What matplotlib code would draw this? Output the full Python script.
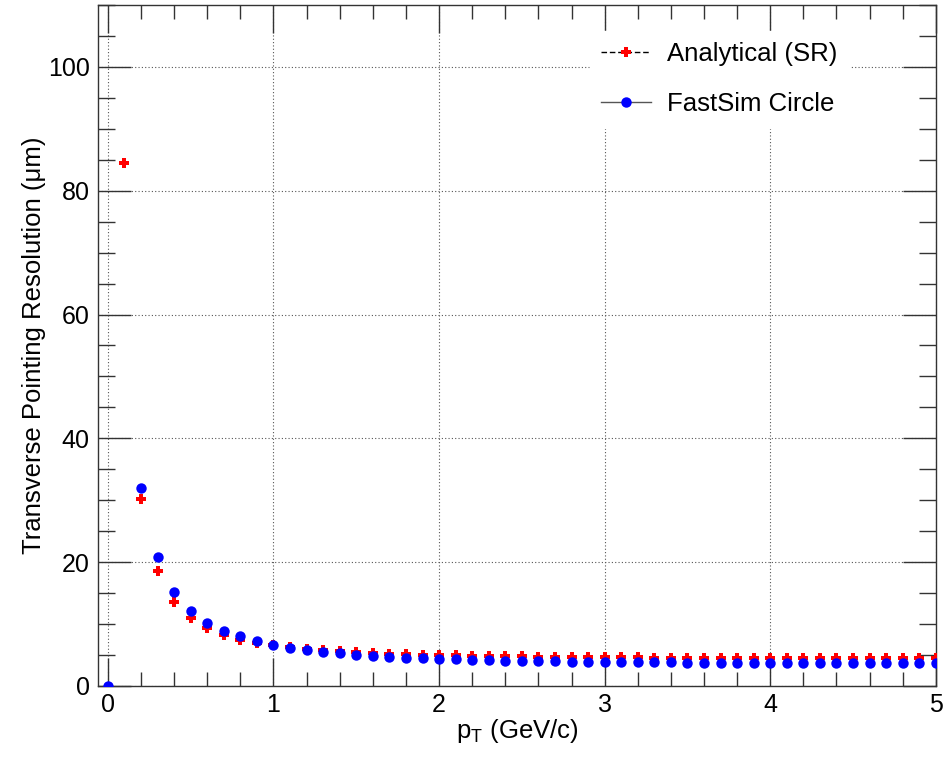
import matplotlib
matplotlib.use("Agg")
import matplotlib.pyplot as plt
from matplotlib.ticker import MultipleLocator
from matplotlib.lines import Line2D

plt.rcParams['font.family'] = ['Liberation Sans', 'DejaVu Sans']

# Analytical (SR)
ana_x = [0.1, 0.2, 0.3, 0.4, 0.5, 0.6, 0.7, 0.8, 0.9, 1.0,
         1.1, 1.2, 1.3, 1.4, 1.5, 1.6, 1.7, 1.8, 1.9, 2.0,
         2.1, 2.2, 2.3, 2.4, 2.5, 2.6, 2.7, 2.8, 2.9, 3.0,
         3.1, 3.2, 3.3, 3.4, 3.5, 3.6, 3.7, 3.8, 3.9, 4.0,
         4.1, 4.2, 4.3, 4.4, 4.5, 4.6, 4.7, 4.8, 4.9, 5.0]
ana_y = [84.4, 30.2, 18.5, 13.6, 11.0, 9.3, 8.2, 7.5, 6.9, 6.6,
         6.3, 6.0, 5.8, 5.6, 5.45, 5.3, 5.2, 5.1, 5.05, 5.0,
         4.95, 4.9, 4.85, 4.8, 4.78, 4.75, 4.72, 4.7, 4.68, 4.66,
         4.64, 4.62, 4.6, 4.59, 4.58, 4.57, 4.56, 4.55, 4.54, 4.53,
         4.52, 4.52, 4.51, 4.51, 4.5, 4.5, 4.49, 4.49, 4.48, 4.48]

# FastSim Circle
fs_x = [0.0, 0.2, 0.3, 0.4, 0.5, 0.6, 0.7, 0.8, 0.9, 1.0,
        1.1, 1.2, 1.3, 1.4, 1.5, 1.6, 1.7, 1.8, 1.9, 2.0,
        2.1, 2.2, 2.3, 2.4, 2.5, 2.6, 2.7, 2.8, 2.9, 3.0,
        3.1, 3.2, 3.3, 3.4, 3.5, 3.6, 3.7, 3.8, 3.9, 4.0,
        4.1, 4.2, 4.3, 4.4, 4.5, 4.6, 4.7, 4.8, 4.9, 5.0]
fs_y = [0.0, 32.0, 20.8, 15.2, 12.1, 10.2, 8.9, 8.0, 7.2, 6.6,
        6.1, 5.8, 5.5, 5.3, 5.0, 4.9, 4.7, 4.6, 4.5, 4.4,
        4.3, 4.2, 4.15, 4.1, 4.05, 4.0, 4.0, 3.95, 3.9, 3.9,
        3.85, 3.85, 3.8, 3.8, 3.78, 3.78, 3.76, 3.76, 3.75, 3.75,
        3.74, 3.73, 3.72, 3.71, 3.7, 3.7, 3.69, 3.68, 3.67, 3.66]

fig = plt.figure(figsize=(9.53, 7.57), dpi=100)
ax = fig.add_axes([0.1028, 0.0938, 0.8792, 0.8996])

ax.plot(ana_x, ana_y, linestyle='none', marker='P', color='#ff0000',
        markersize=7.5, markeredgewidth=0, zorder=3)
ax.plot(fs_x, fs_y, linestyle='none', marker='o', color='#0000ff',
        markersize=7.5, markeredgewidth=0, zorder=4)

ax.set_xlim(-0.06, 5.0)
ax.set_ylim(0, 110)

ax.xaxis.set_major_locator(MultipleLocator(1))
ax.xaxis.set_minor_locator(MultipleLocator(0.2))
ax.yaxis.set_major_locator(MultipleLocator(20))
ax.yaxis.set_minor_locator(MultipleLocator(5))

ax.grid(True, which='major', linestyle=(0, (1, 2)), color='#555555', linewidth=0.8)
ax.set_axisbelow(True)

ax.tick_params(axis='both', which='both', direction='in', top=True, right=True,
               colors='#333333', labelcolor='black', labelsize=18)
ax.tick_params(axis='x', which='major', length=20, width=1, pad=5)
ax.tick_params(axis='x', which='minor', length=10, width=1)
ax.tick_params(axis='y', which='major', length=24, width=1, pad=6)
ax.tick_params(axis='y', which='minor', length=12, width=1)

for s in ax.spines.values():
    s.set_color('#333333')
    s.set_linewidth(1.0)

ax.set_xlabel(r'p$_{\mathregular{T}}$ (GeV/c)', fontsize=18.5, labelpad=0)
ax.set_ylabel('Transverse Pointing Resolution (μm)', fontsize=18.5, labelpad=1)

handles = [
    Line2D([0], [0], color='black', linestyle=(0, (4, 2)), linewidth=1,
           marker='P', markersize=7.5, markerfacecolor='#ff0000',
           markeredgewidth=0),
    Line2D([0], [0], color='#555555', linestyle='-', linewidth=1,
           marker='o', markersize=7.5, markerfacecolor='#0000ff',
           markeredgewidth=0),
]
leg = ax.legend(handles, ['Analytical (SR)', 'FastSim Circle'],
                loc='upper left', bbox_to_anchor=(0.587, 0.962),
                fontsize=18.5, frameon=True, fancybox=False,
                handlelength=1.95, labelspacing=1.0, borderpad=0.45,
                handletextpad=0.6, borderaxespad=0)
leg.get_frame().set_edgecolor('white')
leg.get_frame().set_facecolor('white')
leg.get_frame().set_alpha(1.0)

fig.savefig('out.png', dpi=100)
